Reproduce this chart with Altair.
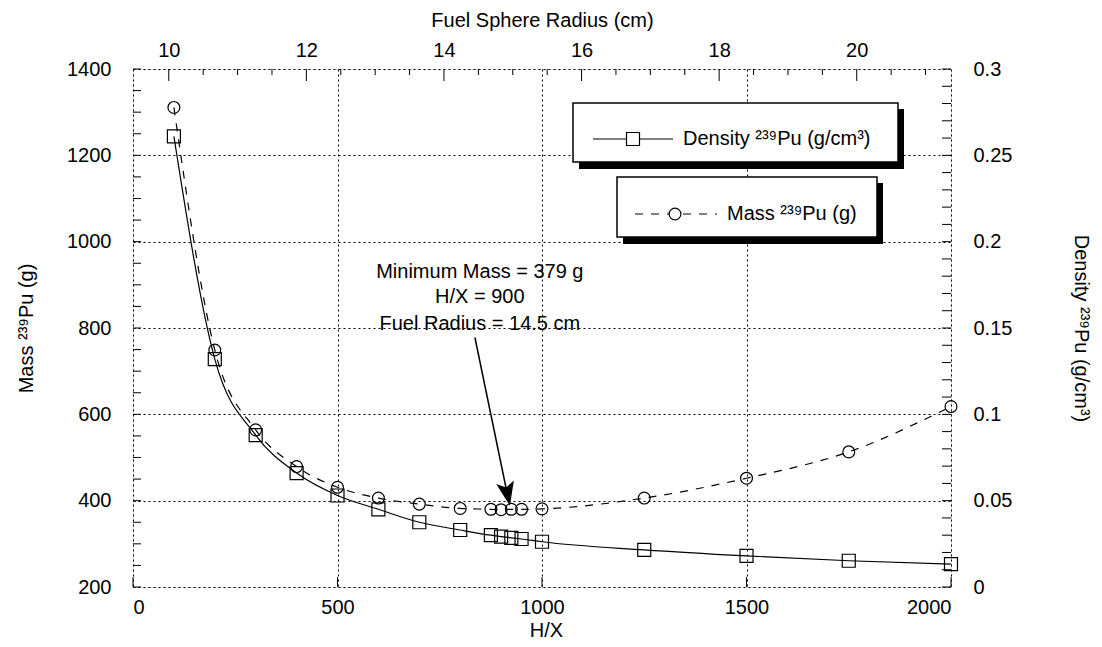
import altair as alt
import pandas as pd

# ---------------- data ----------------
hx = [100, 200, 300, 400, 500, 600, 700, 800, 875, 900, 925, 950, 1000, 1250, 1500, 1750, 2000]
mass = [1311, 749, 564, 479, 431, 406, 392, 382, 380, 379, 380, 380, 381, 406, 452, 513, 618]
density = [0.261, 0.132, 0.088, 0.066, 0.053, 0.045, 0.0375, 0.033, 0.030, 0.0292, 0.0285,
           0.0278, 0.0262, 0.0215, 0.018, 0.0152, 0.0133]

x_ticks = [0, 500, 1000, 1500, 2000]
mass_ticks = [200, 400, 600, 800, 1000, 1200, 1400]
mass_minor = list(range(200, 1401, 50))
density_ticks = [0, 0.05, 0.1, 0.15, 0.2, 0.25, 0.3]
density_minor = [i / 100 for i in range(0, 31)]
radius_ticks = [10, 12, 14, 16, 18, 20]
radius_minor = [10.5, 11, 11.5, 12.5, 13, 13.5, 14.5, 15, 15.5, 16.5, 17, 17.5,
                18.5, 19, 19.5, 20.5, 21]

ann_text = ["Minimum Mass = 379 g", "H/X = 900", "Fuel Radius = 14.5 cm"]
ann_hx = [848, 848, 848]
ann_mass = [930, 872, 810]
arrow_hx, arrow_mass = 836, 778
arrow_hx2, arrow_mass2 = 915, 416
head_hx, head_mass = 915.6, 415.5

FONT = "Liberation Sans"
FS = 20
W, H = 818, 518

df = pd.DataFrame({"hx": hx, "mass": mass, "density": density})

xs = alt.Scale(domain=[0, 2000], nice=False, zero=False)
ms = alt.Scale(domain=[200, 1400], nice=False, zero=False)
ds = alt.Scale(domain=[0, 0.3], nice=False, zero=False)
rs = alt.Scale(domain=[9.48, 21.37], nice=False, zero=False)

common = dict(labelFont=FONT, labelFontSize=FS, labelColor="black",
              titleFont=FONT, titleFontSize=FS, titleColor="black",
              titleFontWeight="normal", ticks=False, tickSize=0, domain=False,
              titleBaseline="middle", titleAlign="center", labelOverlap=False)

x_axis = alt.Axis(orient="bottom", values=x_ticks, format="d", grid=True,
                  gridDash=[2, 3], gridColor="black", gridWidth=1, labelPadding=10,
                  title="H/X", titleX=W / 2 + 4, titleY=43, **common)
mass_axis = alt.Axis(orient="left", values=mass_ticks, format="d", grid=True,
                     gridDash=[2, 3], gridColor="black", gridWidth=1, labelPadding=22,
                     title="Mass ²³⁹Pu (g)", titleX=-107, titleY=H / 2, titleAngle=270,
                     **common)
dens_axis = alt.Axis(orient="right", values=density_ticks, format="~g", grid=False,
                     labelPadding=22, title="Density  ²³⁹Pu (g/cm³)", titleX=129,
                     titleY=H / 2, titleAngle=90, **common)
rad_axis = alt.Axis(orient="top", values=radius_ticks, format="d", grid=False,
                    labelPadding=9, title="Fuel Sphere Radius (cm)", titleX=W / 2,
                    titleY=-49, **common)

# ---------------- mass group (left / bottom) ----------------
mass_line = alt.Chart(df).mark_line(interpolate="monotone", color="black", strokeWidth=1.2,
                                    strokeDash=[8, 8]).encode(
    x=alt.X("hx:Q", scale=xs, axis=x_axis),
    y=alt.Y("mass:Q", scale=ms, axis=mass_axis),
)
mass_pts = alt.Chart(df).mark_point(shape="circle", size=140, filled=False, color="black",
                                    strokeWidth=1.2, opacity=1).encode(
    x="hx:Q", y="mass:Q")
left_ticks = alt.Chart(pd.DataFrame({"mass": mass_minor})).mark_rule(
    color="black", strokeWidth=1).encode(y="mass:Q", x=alt.value(0), x2=alt.value(8))
bottom_ticks = alt.Chart(pd.DataFrame({"hx": x_ticks})).mark_rule(
    color="black", strokeWidth=1).encode(x="hx:Q", y=alt.value(H - 10), y2=alt.value(H))
ann = alt.Chart(pd.DataFrame({"t": ann_text, "hx": ann_hx, "mass": ann_mass})).mark_text(
    font=FONT, fontSize=FS, align="center", baseline="middle", color="black").encode(
    x="hx:Q", y="mass:Q", text="t:N")
arrow = alt.Chart(pd.DataFrame({"hx": [arrow_hx], "mass": [arrow_mass],
                                "hx2": [arrow_hx2], "mass2": [arrow_mass2]})).mark_rule(
    color="black", strokeWidth=1.5).encode(x="hx:Q", y="mass:Q", x2="hx2:Q", y2="mass2:Q")
head = alt.Chart(pd.DataFrame({"hx": [head_hx], "mass": [head_mass]})).mark_point(
    shape="M0,1L-0.75,-1L0,-0.55L0.75,-1Z", size=576, filled=True, color="black",
    opacity=1, angle=348.3).encode(x="hx:Q", y="mass:Q")

mass_group = alt.layer(mass_line, mass_pts, left_ticks, bottom_ticks, ann, arrow, head)

# ---------------- density group (right) ----------------
dens_line = alt.Chart(df).mark_line(interpolate="monotone", color="black",
                                    strokeWidth=1.2).encode(
    x=alt.X("hx:Q", scale=xs, axis=None),
    y=alt.Y("density:Q", scale=ds, axis=dens_axis),
)
dens_pts = alt.Chart(df).mark_point(shape="square", size=169, filled=False, color="black",
                                    strokeWidth=1.2, opacity=1).encode(
    x="hx:Q", y="density:Q")
right_ticks = alt.Chart(pd.DataFrame({"density": density_minor})).mark_rule(
    color="black", strokeWidth=1).encode(y="density:Q", x=alt.value(W - 9), x2=alt.value(W))
dens_group = alt.layer(dens_line, dens_pts, right_ticks)

# ---------------- radius group (top axis) ----------------
top_major = alt.Chart(pd.DataFrame({"r": radius_ticks})).mark_rule(
    color="black", strokeWidth=1).encode(
    x=alt.X("r:Q", scale=rs, axis=rad_axis), y=alt.value(0), y2=alt.value(12))
top_minor = alt.Chart(pd.DataFrame({"r": radius_minor})).mark_rule(
    color="black", strokeWidth=1).encode(x="r:Q", y=alt.value(0), y2=alt.value(6))
rad_group = alt.layer(top_major, top_minor)

# ---------------- legend boxes ----------------
dummy = pd.DataFrame({"a": [0]})
L = alt.Chart(dummy)
shadow1 = L.mark_rect(color="black").encode(x=alt.value(446), x2=alt.value(771),
                                            y=alt.value(40), y2=alt.value(100))
box1 = L.mark_rect(fill="white", stroke="black", strokeWidth=1.5).encode(
    x=alt.value(440), x2=alt.value(765), y=alt.value(34), y2=alt.value(93))
line1 = L.mark_rule(color="black", strokeWidth=1.2).encode(
    x=alt.value(460), x2=alt.value(540), y=alt.value(70))
sym1 = L.mark_point(shape="square", size=169, filled=True, fill="white", stroke="black",
                    strokeWidth=1.2, opacity=1).encode(x=alt.value(500), y=alt.value(70))
text1 = L.mark_text(font=FONT, fontSize=FS, align="left", baseline="middle",
                    color="black").encode(x=alt.value(550), y=alt.value(70),
                                          text=alt.value("Density ²³⁹Pu (g/cm³)"))
shadow2 = L.mark_rect(color="black").encode(x=alt.value(490), x2=alt.value(750),
                                            y=alt.value(114), y2=alt.value(175))
box2 = L.mark_rect(fill="white", stroke="black", strokeWidth=1.5).encode(
    x=alt.value(484), x2=alt.value(744), y=alt.value(108), y2=alt.value(168))
line2 = L.mark_rule(color="black", strokeWidth=1.2, strokeDash=[8, 8]).encode(
    x=alt.value(502), x2=alt.value(584), y=alt.value(145))
sym2 = L.mark_point(shape="circle", size=140, filled=True, fill="white", stroke="black",
                    strokeWidth=1.2, opacity=1).encode(x=alt.value(542), y=alt.value(145))
text2 = L.mark_text(font=FONT, fontSize=FS, align="left", baseline="middle",
                    color="black").encode(x=alt.value(594), y=alt.value(145),
                                          text=alt.value("Mass ²³⁹Pu (g)"))
legend_group = alt.layer(shadow1, box1, line1, sym1, text1,
                         shadow2, box2, line2, sym2, text2)

chart = alt.layer(mass_group, dens_group, rad_group, legend_group).resolve_scale(
    x="independent", y="independent"
).properties(
    width=W, height=H,
    autosize=alt.AutoSizeParams(type="none"),
    padding={"left": 125, "top": 61, "right": 143, "bottom": 52},
).configure_view(stroke="black", strokeWidth=1.5).configure(background="white")

chart.save("out.html", embed_options={"renderer": "svg", "actions": False})
